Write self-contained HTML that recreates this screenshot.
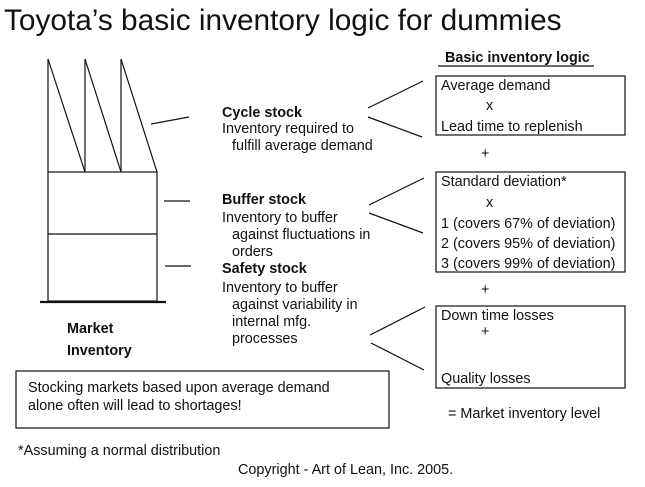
<!DOCTYPE html>
<html><head><style>
html,body{margin:0;padding:0;background:#fff;}
svg{display:block;font-family:"Liberation Sans",Arial,sans-serif;}
text{font-size:14.4px;fill:#111;}
.b{font-weight:bold;}
</style></head><body>
<svg width="645" height="487" viewBox="0 0 645 487" xmlns="http://www.w3.org/2000/svg">
<text x="4" y="30" style="font-size:29.8px">Toyota’s basic inventory logic for dummies</text>
<g stroke="#111" stroke-width="1.2" fill="none">
<line x1="48" y1="59" x2="48" y2="172"/><line x1="85" y1="59" x2="85" y2="172"/><line x1="121" y1="59" x2="121" y2="172"/>
<line x1="48" y1="59" x2="85" y2="172"/><line x1="85" y1="59" x2="121" y2="172"/><line x1="121" y1="59" x2="157" y2="172"/>
<rect x="48" y="172" width="109" height="129"/>
<line x1="48" y1="234" x2="157" y2="234"/>
<line x1="40" y1="302" x2="166" y2="302" stroke-width="2.2"/>
<line x1="151" y1="124" x2="189" y2="117"/>
<line x1="164" y1="201" x2="190" y2="201"/>
<line x1="165" y1="266" x2="191" y2="266"/>
<line x1="368" y1="108" x2="423" y2="81"/><line x1="368" y1="117" x2="422" y2="137"/>
<line x1="369" y1="205" x2="424" y2="178"/><line x1="369" y1="213" x2="423" y2="233"/>
<line x1="370" y1="335" x2="425" y2="307"/><line x1="371" y1="343" x2="424" y2="370"/>
<rect x="436" y="76" width="189" height="59"/>
<rect x="436" y="172" width="189" height="100"/>
<rect x="436" y="306" width="189" height="82"/>
<line x1="438" y1="66" x2="594" y2="66"/>
<rect x="16" y="371" width="373" height="57"/>
</g>
<text class="b" x="445" y="62">Basic inventory logic</text>
<text class="b" x="222" y="117">Cycle stock</text>
<text x="222" y="133">Inventory required to</text>
<text x="232" y="150">fulfill average demand</text>
<text class="b" x="222" y="204">Buffer stock</text>
<text x="222" y="222">Inventory to buffer</text>
<text x="232" y="239">against fluctuations in</text>
<text x="232" y="256">orders</text>
<text class="b" x="222" y="273">Safety stock</text>
<text x="222" y="292">Inventory to buffer</text>
<text x="232" y="309">against variability in</text>
<text x="232" y="326">internal mfg.</text>
<text x="232" y="343">processes</text>
<text x="441" y="90">Average demand</text>
<text x="486" y="110">x</text>
<text x="441" y="131">Lead time to replenish</text>
<text x="481" y="158">+</text>
<text x="441" y="186">Standard deviation*</text>
<text x="486" y="207">x</text>
<text x="441" y="228">1 (covers 67% of deviation)</text>
<text x="441" y="248">2 (covers 95% of deviation)</text>
<text x="441" y="268">3 (covers 99% of deviation)</text>
<text x="481" y="294">+</text>
<text x="441" y="320">Down time losses</text>
<text x="481" y="336">+</text>
<text x="441" y="383">Quality losses</text>
<text x="448" y="418">= Market inventory level</text>
<text class="b" x="67" y="333">Market</text>
<text class="b" x="67" y="355">Inventory</text>
<text x="28" y="392">Stocking markets based upon average demand</text>
<text x="28" y="410">alone often will lead to shortages!</text>
<text x="18" y="455">*Assuming a normal distribution</text>
<text x="238" y="474">Copyright - Art of Lean, Inc. 2005.</text>
</svg>
</body></html>
